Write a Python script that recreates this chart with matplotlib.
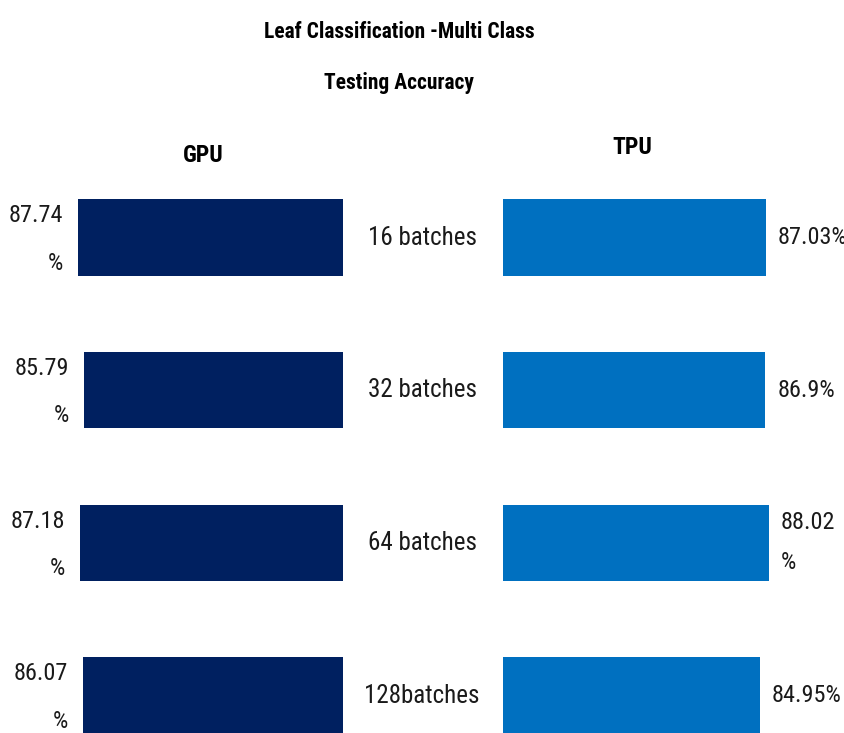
import matplotlib
matplotlib.use("Agg")
import matplotlib.pyplot as plt
from matplotlib import transforms
import matplotlib.font_manager as fm
from matplotlib.font_manager import FontProperties

# ---- data ----
title_lines = ["Leaf Classification -Multi Class", "Testing Accuracy"]
categories = ["16 batches", "32 batches", "64 batches", "128batches"]
gpu_values = [87.74, 85.79, 87.18, 86.07]
tpu_values = [87.03, 86.9, 88.02, 84.95]
gpu_labels = ["87.74\n%", "85.79\n%", "87.18\n%", "86.07\n%"]
tpu_labels = ["87.03%", "86.9%", "88.02\n%", "84.95%"]
panel_titles = ["GPU", "TPU"]

gpu_color = "#002060"
tpu_color = "#0070C0"


# ---- pick a narrow font if one is installed ----
def _w(f):
    w = f.weight
    if isinstance(w, str):
        w = fm.weight_dict.get(w, 400)
    return int(w)


def pick_font(bold):
    prefs = ["Liberation Sans Narrow", "Arial Narrow", "Roboto Condensed",
             "Open Sans Condensed", "Noto Sans Condensed",
             "DejaVu Sans Condensed"]
    narrow_stretch = {"condensed", "semi-condensed", "extra-condensed",
                      "ultra-condensed"}
    cands = []
    for f in fm.fontManager.ttflist:
        if f.style != "normal":
            continue
        st = f.stretch
        is_narrow = (f.name in prefs or
                     (isinstance(st, str) and st in narrow_stretch) or
                     (not isinstance(st, str) and st < 500) or
                     "narrow" in f.name.lower() or
                     "condensed" in f.name.lower())
        if not is_narrow:
            continue
        if "cjk" in f.name.lower() or "mono" in f.name.lower():
            continue
        rank = prefs.index(f.name) if f.name in prefs else len(prefs)
        target = 700 if bold else 400
        cands.append((rank, abs(_w(f) - target), f.fname))
    if not cands:
        return None
    cands.sort()
    return cands[0][2]


reg_file = pick_font(False)
bold_file = pick_font(True)
narrow = reg_file is not None


def fp(size, bold=False):
    f = bold_file if bold else reg_file
    if f is not None:
        return FontProperties(fname=f, size=size)
    return FontProperties(family="DejaVu Sans", size=size,
                          weight="bold" if bold else "normal")


scale = 1.0 if narrow else 0.78
VAL = 17.5 * scale
CAT = 18 * scale
HEAD = 17 * scale
TIT = 15.5 * scale

W, H = 844, 733
fig = plt.figure(figsize=(W / 100, H / 100), dpi=100)


def fx(px):
    return px / W


def fy(py):
    return 1 - py / H


ax_top_px = 161.2
row_px = 152.67
ax_h_px = H - ax_top_px
ylim_bottom = -0.5 + ax_h_px / row_px
ax_w_px = 302

axL = fig.add_axes([fx(343 - ax_w_px), 0, fx(ax_w_px), ax_h_px / H])
axR = fig.add_axes([fx(503), 0, fx(ax_w_px), ax_h_px / H])

ypos = list(range(len(categories)))
axL.barh(ypos, gpu_values, height=0.5, color=gpu_color)
axR.barh(ypos, tpu_values, height=0.5, color=tpu_color)

axL.set_xlim(100, 0)
axR.set_xlim(0, 100)
for ax in (axL, axR):
    ax.set_ylim(ylim_bottom, -0.5)
    ax.axis("off")

for y, v, lab in zip(ypos, gpu_values, gpu_labels):
    axL.annotate(lab, xy=(v, y), xytext=(-15, -2), textcoords="offset pixels",
                 ha="right", va="center", multialignment="right",
                 fontproperties=fp(VAL), linespacing=2.35, color="#1a1a1a")
for y, v, lab in zip(ypos, tpu_values, tpu_labels):
    axR.annotate(lab, xy=(v, y), xytext=(12, 0), textcoords="offset pixels",
                 ha="left", va="center", multialignment="left",
                 fontproperties=fp(VAL), linespacing=1.95, color="#1a1a1a")

blend = transforms.blended_transform_factory(fig.transFigure, axL.transData)
for y, c in zip(ypos, categories):
    fig.text(fx(422), y, c, transform=blend, ha="center", va="center",
             fontproperties=fp(CAT), color="#1a1a1a")

fig.text(fx(203), fy(155), panel_titles[0], ha="center", va="center",
         fontproperties=fp(HEAD, True), color="black")
fig.text(fx(632), fy(147), panel_titles[1], ha="center", va="center",
         fontproperties=fp(HEAD, True), color="black")

fig.text(fx(399), fy(32), title_lines[0], ha="center", va="center",
         fontproperties=fp(TIT, True), color="black")
fig.text(fx(399), fy(83), title_lines[1], ha="center", va="center",
         fontproperties=fp(TIT, True), color="black")

fig.savefig("out.png", dpi=100, facecolor="white")
